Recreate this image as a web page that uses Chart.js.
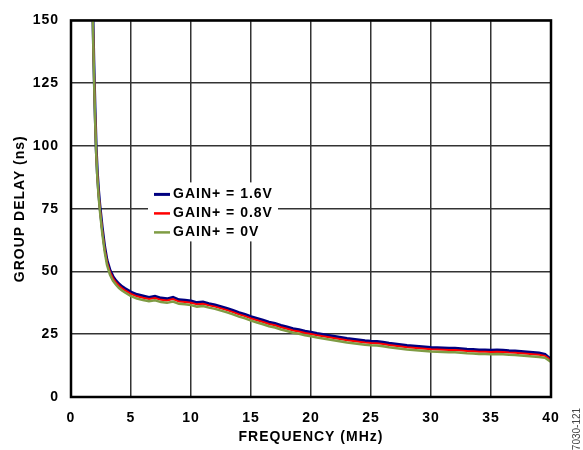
<!DOCTYPE html>
<html>
<head>
<meta charset="utf-8">
<script src="https://cdn.jsdelivr.net/npm/chart.js@4"></script>
<style>
  body { margin: 0; background: #fff; }
</style>
</head>
<body>
<canvas id="delayChart" width="583" height="450"></canvas>
<script>
const freq = [1.8, 1.9, 2.0, 2.1, 2.2, 2.3, 2.4, 2.6, 2.8, 3.0, 3.25, 3.5, 3.75, 4.0, 4.25, 4.5,
  5.0, 5.5, 6.0, 6.5, 7.0, 7.5, 8.0, 8.5, 9.0, 9.5, 10.0, 10.5, 11.0, 11.5, 12.0, 12.5,
  13.0, 13.5, 14.0, 14.5, 15.0, 15.5, 16.0, 16.5, 17.0, 17.5, 18.0, 18.5, 19.0, 19.5, 20.0,
  20.5, 21.0, 21.5, 22.0, 22.5, 23.0, 23.5, 24.0, 24.5, 25.0, 25.5, 26.0, 26.5, 27.0, 27.5,
  28.0, 28.5, 29.0, 29.5, 30.0, 30.5, 31.0, 31.5, 32.0, 32.5, 33.0, 33.5, 34.0, 34.5, 35.0,
  35.5, 36.0, 36.5, 37.0, 37.5, 38.0, 38.5, 39.0, 39.5, 40.0];

const gain16 = [158, 134, 115, 99, 89, 82, 76.5, 67.5, 60, 54.5, 50.5, 48, 46.3, 45, 44, 43.2,
  41.8, 40.8, 40.2, 39.6, 40.1, 39.4, 39.1, 39.7, 38.7, 38.5, 38.2, 37.6, 37.8, 37.2, 36.7, 36.0,
  35.3, 34.5, 33.6, 32.9, 32.0, 31.3, 30.6, 29.8, 29.3, 28.5, 27.9, 27.2, 26.8, 26.2, 25.8,
  25.3, 24.9, 24.5, 24.1, 23.7, 23.3, 23.0, 22.7, 22.4, 22.2, 22.1, 21.8, 21.4, 21.1, 20.8,
  20.5, 20.3, 20.1, 19.9, 19.7, 19.6, 19.5, 19.4, 19.4, 19.2, 19.0, 18.9, 18.7, 18.7, 18.6,
  18.7, 18.6, 18.4, 18.3, 18.1, 17.9, 17.7, 17.5, 17.0, 15.0];

const gain08 = [156, 133, 114, 98, 88, 81, 75.5, 66.5, 59, 53.7, 49.7, 47.3, 45.6, 44.3, 43.3, 42.5,
  41.1, 40.1, 39.5, 39.0, 39.4, 38.7, 38.4, 39.0, 38.0, 37.8, 37.5, 36.9, 37.1, 36.5, 36.0, 35.3,
  34.6, 33.8, 32.9, 32.2, 31.3, 30.6, 29.9, 29.1, 28.6, 27.8, 27.2, 26.5, 26.1, 25.5, 25.1,
  24.6, 24.2, 23.8, 23.4, 23.0, 22.6, 22.3, 22.0, 21.7, 21.5, 21.4, 21.1, 20.7, 20.4, 20.1,
  19.8, 19.6, 19.4, 19.2, 19.0, 18.9, 18.8, 18.7, 18.7, 18.5, 18.3, 18.2, 18.0, 18.0, 17.9,
  18.0, 17.9, 17.7, 17.6, 17.4, 17.2, 17.0, 16.8, 16.4, 14.6];

const gain0 = [154, 131, 112, 97, 87, 80, 74.5, 65.5, 58, 52.6, 48.7, 46.3, 44.7, 43.4, 42.4, 41.6,
  40.2, 39.2, 38.6, 38.1, 38.5, 37.8, 37.5, 38.0, 37.1, 36.9, 36.6, 36.0, 36.2, 35.6, 35.1, 34.4,
  33.7, 32.9, 32.0, 31.3, 30.4, 29.7, 29.0, 28.2, 27.7, 26.9, 26.3, 25.6, 25.2, 24.6, 24.2,
  23.7, 23.3, 22.9, 22.5, 22.1, 21.7, 21.4, 21.1, 20.8, 20.6, 20.5, 20.2, 19.8, 19.5, 19.2,
  18.9, 18.7, 18.5, 18.3, 18.1, 18.0, 17.9, 17.8, 17.8, 17.6, 17.4, 17.3, 17.1, 17.1, 17.0,
  17.1, 17.0, 16.8, 16.7, 16.5, 16.3, 16.1, 15.9, 15.6, 14.0];

const seriesLabels = ["GAIN+ = 1.6V", "GAIN+ = 0.8V", "GAIN+ = 0V"];
const seriesColors = ["#000080", "#ff0000", "#7f9c44"];
const seriesWidths = [3, 2, 2.5];
const xTicks = [0, 5, 10, 15, 20, 25, 30, 35, 40];
const yTicks = [0, 25, 50, 75, 100, 125, 150];
const figureId = "7030-121";

const boldFont = "bold 14px 'Liberation Sans', Arial, sans-serif";

function toPoints(values) {
  return freq.map((f, i) => ({ x: f, y: values[i] }));
}

const framePlugin = {
  id: "frame",
  beforeDraw(chart) {
    chart.ctx.letterSpacing = "1px";
  },
  afterDatasetsDraw(chart) {
    const { ctx, chartArea: a } = chart;
    ctx.save();

    // legend box inside the plot
    const lx = a.left + 77;
    const ly = a.top + 162;
    ctx.fillStyle = "#fff";
    ctx.fillRect(lx, ly, 130, 59);
    ctx.font = boldFont;
    ctx.textBaseline = "middle";
    ctx.textAlign = "left";
    seriesLabels.forEach((label, i) => {
      const y = ly + 12 + i * 19;
      ctx.strokeStyle = seriesColors[i];
      ctx.lineWidth = i === 0 ? 3 : 2.5;
      ctx.beginPath();
      ctx.moveTo(lx + 6, y);
      ctx.lineTo(lx + 22, y);
      ctx.stroke();
      ctx.fillStyle = "#000";
      ctx.fillText(label, lx + 25, y);
    });

    // frame
    ctx.strokeStyle = "#000";
    ctx.lineWidth = 2.5;
    ctx.strokeRect(a.left, a.top, a.width, a.height);

    // figure number
    ctx.letterSpacing = "0px";
    ctx.font = "10px 'Liberation Sans', Arial, sans-serif";
    ctx.fillStyle = "#444";
    ctx.translate(577, 429);
    ctx.rotate(-Math.PI / 2);
    ctx.textAlign = "center";
    ctx.fillText(figureId, 0, 0);
    ctx.restore();
  },
};

function renderChart() {
  const ctx = document.getElementById("delayChart").getContext("2d");
  new Chart(ctx, {
    type: "line",
    data: {
      datasets: [gain16, gain08, gain0].map((values, i) => ({
        label: seriesLabels[i],
        data: toPoints(values),
        borderColor: seriesColors[i],
        borderWidth: seriesWidths[i],
        order: 3 - i,
        pointRadius: 0,
        tension: 0,
        fill: false,
      })),
    },
    options: {
      responsive: false,
      animation: false,
      devicePixelRatio: 1,
      layout: { padding: { left: 0, top: 14, right: 32, bottom: 0 } },
      plugins: { legend: { display: false }, tooltip: { enabled: false } },
      scales: {
        x: {
          type: "linear",
          min: 0,
          max: 40,
          afterBuildTicks: (scale) => { scale.ticks = xTicks.map((v) => ({ value: v })); },
          afterFit: (scale) => { scale.height = 53; },
          grid: { color: "#333", lineWidth: 1.5, drawTicks: false },
          border: { display: false },
          ticks: { color: "#000", font: { family: "'Liberation Sans', Arial", size: 14, weight: "bold" }, padding: 13, maxRotation: 0 },
          title: {
            display: true,
            text: "FREQUENCY (MHz)",
            color: "#000",
            font: { family: "'Liberation Sans', Arial", size: 14, weight: "bold" },
            padding: { top: 0, bottom: 4 },
          },
        },
        y: {
          min: 0,
          max: 150,
          afterBuildTicks: (scale) => { scale.ticks = yTicks.map((v) => ({ value: v })); },
          afterFit: (scale) => { scale.width = 71; },
          grid: { color: "#333", lineWidth: 1.5, drawTicks: false },
          border: { display: false },
          ticks: { color: "#000", font: { family: "'Liberation Sans', Arial", size: 14, weight: "bold" }, padding: 12 },
          title: {
            display: true,
            text: "GROUP DELAY (ns)",
            color: "#000",
            font: { family: "'Liberation Sans', Arial", size: 14, weight: "bold" },
            padding: { top: 12, bottom: 0 },
          },
        },
      },
    },
    plugins: [framePlugin],
  });
}

renderChart();
</script>
</body>
</html>
